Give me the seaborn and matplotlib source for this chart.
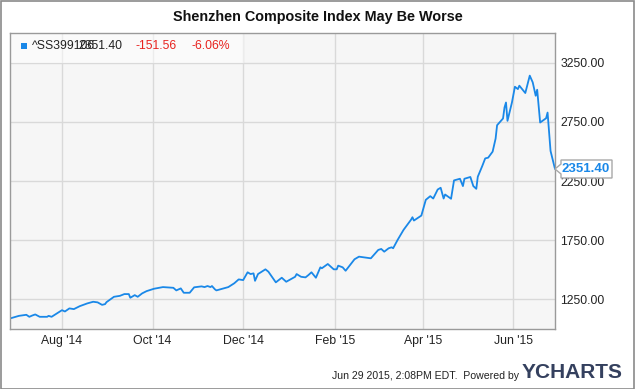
import pandas as pd
import seaborn as sns
import matplotlib.pyplot as plt
import matplotlib.dates as mdates
from matplotlib.patches import Rectangle, Polygon
from matplotlib.transforms import Affine2D, ScaledTranslation

''' DATA READ OFF THE CHART
'''
dates = ['2014-06-27', '2014-07-03', '2014-07-08', '2014-07-10', '2014-07-12', '2014-07-14',
         '2014-07-17', '2014-07-22', '2014-07-23', '2014-07-25', '2014-08-01', '2014-08-03',
         '2014-08-06', '2014-08-09', '2014-08-13', '2014-08-18', '2014-08-22', '2014-08-25',
         '2014-08-28', '2014-08-30', '2014-08-31', '2014-09-05', '2014-09-09', '2014-09-12',
         '2014-09-15', '2014-09-16', '2014-09-19', '2014-09-21', '2014-09-24', '2014-09-27',
         '2014-10-02', '2014-10-08', '2014-10-15', '2014-10-17', '2014-10-20', '2014-10-22',
         '2014-10-26', '2014-10-29', '2014-11-03', '2014-11-05', '2014-11-07', '2014-11-09',
         '2014-11-10', '2014-11-12', '2014-11-13', '2014-11-18', '2014-11-21', '2014-11-25',
         '2014-11-28', '2014-12-01', '2014-12-04', '2014-12-06', '2014-12-08', '2014-12-09',
         '2014-12-11', '2014-12-16', '2014-12-18', '2014-12-23', '2014-12-27', '2014-12-30',
         '2015-01-05', '2015-01-06', '2015-01-09', '2015-01-12', '2015-01-14', '2015-01-16',
         '2015-01-19', '2015-01-22', '2015-01-23', '2015-01-27', '2015-01-31', '2015-02-02',
         '2015-02-03', '2015-02-06', '2015-02-08', '2015-02-14', '2015-02-17', '2015-02-25',
         '2015-03-02', '2015-03-04', '2015-03-06', '2015-03-09', '2015-03-11', '2015-03-12',
         '2015-03-15', '2015-03-19', '2015-03-24', '2015-03-25', '2015-03-26', '2015-03-31',
         '2015-04-03', '2015-04-06', '2015-04-08', '2015-04-11', '2015-04-13', '2015-04-15',
         '2015-04-16', '2015-04-20', '2015-04-22', '2015-04-26', '2015-04-28', '2015-04-29',
         '2015-05-03', '2015-05-05', '2015-05-07', '2015-05-08', '2015-05-11', '2015-05-13',
         '2015-05-15', '2015-05-18', '2015-05-20', '2015-05-21', '2015-05-25', '2015-05-26',
         '2015-05-27', '2015-05-28', '2015-05-31', '2015-06-02', '2015-06-04', '2015-06-05',
         '2015-06-09', '2015-06-12', '2015-06-14', '2015-06-16', '2015-06-17', '2015-06-19',
         '2015-06-23', '2015-06-24', '2015-06-26', '2015-06-29']
values = [1089, 1111, 1120, 1103, 1114, 1123,
          1103, 1103, 1111, 1103, 1159, 1148,
          1174, 1168, 1193, 1216, 1230, 1225,
          1204, 1210, 1227, 1272, 1280, 1295,
          1295, 1264, 1286, 1272, 1301, 1320,
          1340, 1354, 1348, 1326, 1343, 1306,
          1306, 1352, 1360, 1354, 1363, 1354,
          1363, 1335, 1326, 1343, 1354, 1386,
          1419, 1413, 1479, 1464, 1470, 1407,
          1464, 1504, 1484, 1394, 1433, 1399,
          1441, 1464, 1441, 1436, 1456, 1479,
          1433, 1521, 1513, 1549, 1504, 1504,
          1535, 1521, 1492, 1589, 1611, 1597,
          1668, 1676, 1653, 1682, 1690, 1682,
          1752, 1837, 1922, 1944, 1916, 1958,
          2091, 2122, 2102, 2178, 2193, 2102,
          2136, 2100, 2255, 2269, 2207, 2269,
          2284, 2207, 2184, 2286, 2376, 2441,
          2447, 2498, 2608, 2721, 2778, 2871,
          2913, 2758, 2913, 3046, 3026, 3055,
          2993, 3140, 3083, 2970, 3021, 2744,
          2780, 2828, 2504, 2351.40]
y_ticks = [1250, 1750, 2250, 2750, 3250]
ticker_name = '^SS399106'
last_label = '2351.40'
change_abs = '-151.56'
change_pct = '-6.06%'

df = pd.DataFrame({'date': pd.to_datetime(dates), 'value': values})

''' STYLE
'''
sns.set_style('whitegrid', {'axes.facecolor': '#f6f6f6', 'grid.color': '#d9d9d9',
                            'axes.edgecolor': '#9a9a9a'})
plt.rcParams['font.family'] = ['Liberation Sans', 'DejaVu Sans']

W, H = 635, 389
fig = plt.figure(figsize=(W / 100, H / 100), dpi=100)
ax = fig.add_axes([10 / W, 1 - 329 / H, 545 / W, 296 / H])

line_col = '#1a88e8'
sns.lineplot(data=df, x='date', y='value', ax=ax, color=line_col, linewidth=1.3)

ax.set_xlim(df['date'].iloc[0], df['date'].iloc[-1])
ax.set_ylim(1000, 3500)
ax.set_yticks(y_ticks)
ax.yaxis.tick_right()
ax.yaxis.set_major_formatter(plt.FuncFormatter(lambda v, p: f'{v:.2f}'))
ax.xaxis.set_major_locator(mdates.MonthLocator(bymonth=[2, 4, 6, 8, 10, 12]))
ax.xaxis.set_major_formatter(mdates.DateFormatter("%b '%y"))
ax.tick_params(axis='both', length=0, labelsize=8.8, colors='#222222')
ax.tick_params(axis='y', pad=4)
ax.tick_params(axis='x', pad=4.5)
ax.set_xlabel('')
ax.set_ylabel('')
ax.grid(True, linewidth=1)
for s in ax.spines.values():
    s.set_linewidth(1)

''' LEGEND STRIP
'''
ax.add_patch(Rectangle((0, 0.9), 0.43, 0.1, transform=ax.transAxes,
                       facecolor='white', alpha=0.5, edgecolor='none', zorder=1))
fig.patches.append(Rectangle((21 / W, 1 - 49 / H), 6 / W, 6 / H, transform=fig.transFigure,
                             facecolor=line_col, edgecolor='none'))
fig.text(32 / W, 1 - 46 / H, ticker_name, fontsize=8.8, color='#222222', va='center')
fig.text(78 / W, 1 - 46 / H, last_label, fontsize=8.8, color='#222222', va='center')
fig.text(135 / W, 1 - 46 / H, change_abs, fontsize=8.8, color='#e8231f', va='center')
fig.text(192 / W, 1 - 46 / H, change_pct, fontsize=8.8, color='#e8231f', va='center')

''' LAST VALUE FLAG
'''
x_last = mdates.date2num(df['date'].iloc[-1])
y_last = df['value'].iloc[-1]
flag_tr = Affine2D() + ScaledTranslation(x_last, y_last, ax.transData)
flag = Polygon([(0, 0), (6, 5), (6, 9), (57, 9), (57, -9), (6, -9), (6, -5)],
               closed=True, transform=flag_tr, facecolor='white', edgecolor='#a8a8a8',
               linewidth=1, clip_on=False, zorder=5)
ax.add_patch(flag)
ax.text(31, 0, last_label, transform=flag_tr, ha='center', va='center',
        fontsize=9.5, fontweight='bold', color=line_col, clip_on=False, zorder=6)

''' TITLE, FOOTER, BORDER
'''
fig.text(0.5, 1 - 17 / H, 'Shenzhen Composite Index May Be Worse', ha='center',
         va='center', fontsize=10.4, fontweight='bold', color='#111111')
fig.text(519 / W, 1 - 376 / H, 'Jun 29 2015, 2:08PM EDT.  Powered by', ha='right',
         va='center', fontsize=7.6, color='#222222')
fig.text(522 / W, 1 - 373 / H, 'YCHARTS', ha='left', va='center', fontsize=15,
         fontweight='bold', color='#34405e')
fig.patches.append(Rectangle((0.5 / W, 0.5 / H), 1 - 1.5 / W, 1 - 1.5 / H,
                             transform=fig.transFigure, facecolor='none',
                             edgecolor='#8a8a8a', linewidth=1.2))

plt.savefig('out.png', dpi=100)
